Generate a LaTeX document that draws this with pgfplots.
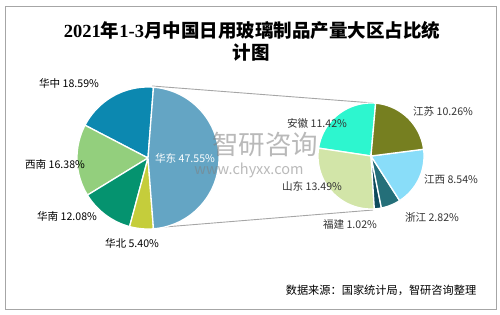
\documentclass[border=0pt]{standalone}
\usepackage{pgfplots}
\pgfplotsset{compat=1.18}
\usepackage{fontspec}
\setmainfont{Noto Sans CJK SC}
\newfontfamily\titleserif{Liberation Serif}
\newfontfamily\cjk{Noto Sans CJK SC}
\definecolor{cHD}{HTML}{64A5C4}
\definecolor{cHZ}{HTML}{0C88B0}
\definecolor{cXN}{HTML}{93CF7D}
\definecolor{cHN}{HTML}{05936F}
\definecolor{cHB}{HTML}{C5CD3B}
\definecolor{cAH}{HTML}{2DF6CF}
\definecolor{cJS}{HTML}{767F20}
\definecolor{cJX}{HTML}{89DDF9}
\definecolor{cZJ}{HTML}{246F79}
\definecolor{cFJ}{HTML}{0E4B5D}
\definecolor{cSD}{HTML}{D2E5A8}
\definecolor{frame}{HTML}{A6A6A6}
% main pie: centre (148,158), r=71, starts at 47.55*1.8 deg, cumulative percent
\newcommand\mainwedge[3]{%
\addplot[fill=#3, draw=white, line width=1.3pt, domain={85.59+#1*3.6}:{85.59+#2*3.6}, samples=80, variable=\t]
  ({148+71*cos(\t)},{158-71*sin(\t)}) -- (axis cs:148,158) -- cycle;}
% second pie: centre (371,156), r=53, shares of 47.55
\newcommand\subwedge[3]{%
\addplot[fill=#3, draw=white, line width=1.3pt, domain={85+#1*360/47.55}:{85+#2*360/47.55}, samples=60, variable=\t]
  ({371+53*cos(\t)},{156-53*sin(\t)}) -- (axis cs:371,156) -- cycle;}
\tikzset{lab/.style={font=\fontsize{10.6}{10.6}\selectfont, inner sep=0pt}}
\begin{document}
\begin{tikzpicture}
\begin{axis}[
  width=500pt, height=314pt, scale only axis,
  xmin=0, xmax=500, ymin=0, ymax=314, y dir=reverse,
  hide axis, clip=false]
\path (axis cs:0,0) rectangle (axis cs:500,314);
\draw[frame, line width=1pt] (axis cs:5.5,6) rectangle (axis cs:496,309);
% connector lines
\draw[frame, line width=0.9pt] (axis cs:152,86) -- (axis cs:373,103);
\draw[frame, line width=0.9pt] (axis cs:152,228) -- (axis cs:373,210);
% main pie (cumulative percentages)
\mainwedge{0}{18.59}{cHZ}
\mainwedge{18.59}{34.97}{cXN}
\mainwedge{34.97}{47.05}{cHN}
\mainwedge{47.05}{52.45}{cHB}
\mainwedge{52.45}{100}{cHD}
% second pie (cumulative values within 47.55)
\subwedge{0}{11.42}{cAH}
\subwedge{11.42}{24.91}{cSD}
\subwedge{24.91}{25.93}{cFJ}
\subwedge{25.93}{28.75}{cZJ}
\subwedge{28.75}{37.29}{cJX}
\subwedge{37.29}{47.55}{cJS}
% watermark
\node[text=gray, opacity=0.55, font=\fontsize{26.5}{26.5}\selectfont, inner sep=0pt] at (axis cs:265,145) {智研咨询};
\node[text=gray, opacity=0.55, font=\fontsize{14.5}{14.5}\selectfont, inner sep=0pt] at (axis cs:249,170) {www.chyxx.com};
% title
\node[font=\fontsize{18.5}{18.5}\selectfont\bfseries, inner sep=0pt] at (axis cs:252,30) {{\titleserif 2021}年{\titleserif 1-3}月中国日用玻璃制品产量大区占比统};
\node[font=\fontsize{18.5}{18.5}\selectfont\bfseries, inner sep=0pt] at (axis cs:251,53) {计图};
% labels main pie
\node[lab] at (axis cs:69,83) {华中 18.59\%};
\node[lab] at (axis cs:55,164) {西南 16.38\%};
\node[lab] at (axis cs:67,216) {华南 12.08\%};
\node[lab] at (axis cs:132,243) {华北 5.40\%};
\node[lab, text=white] at (axis cs:185,158) {华东 47.55\%};
% labels second pie
\node[lab, text=black!80] at (axis cs:317,123) {安徽 11.42\%};
\node[lab, text=black!80] at (axis cs:443,111) {江苏 10.26\%};
\node[lab, text=black!80] at (axis cs:451,180) {江西 8.54\%};
\node[lab, text=black!80] at (axis cs:432,217) {浙江 2.82\%};
\node[lab, text=black!80] at (axis cs:350,224) {福建 1.02\%};
\node[lab, text=black!80] at (axis cs:312,186) {山东 13.49\%};
% source
\node[font=\fontsize{11.2}{11.2}\selectfont, inner sep=0pt] at (axis cs:381,290) {数据来源：国家统计局，智研咨询整理};
\end{axis}
\end{tikzpicture}
\end{document}
